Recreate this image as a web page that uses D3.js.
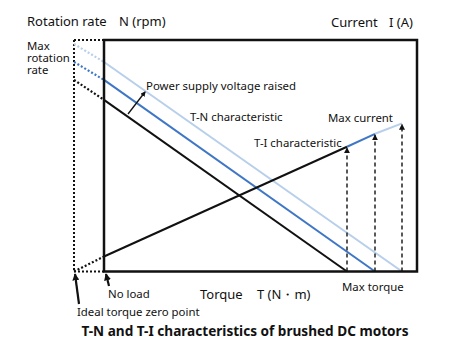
<!DOCTYPE html>
<html><head><meta charset="utf-8">
<script src="https://cdn.jsdelivr.net/npm/d3@7"></script>
<style>
html,body{margin:0;padding:0;background:#fff;}
svg{display:block;font-family:"Noto Sans","Open Sans",sans-serif;}
</style></head>
<body>
<script>
// ---- data (torque/rotation/current in arbitrary units) ----
const seriesNames = ["Base voltage", "Raised voltage", "Raised voltage (higher)"];
const seriesColors = ["#111111", "#3f77c6", "#b7cfea"];
const idealZeroTorque = 0;
const noLoadTorque = 3;
const maxTorque = [27.3, 30.1, 32.8];
const rotationAtIdealZero = [19.2, 21.0, 22.8];
const rotationAtNoLoad = [17.2, 19.2, 21.0];
const currentAtIdealZero = 0;
const currentAtNoLoad = 1.5;
const currentAtMaxTorque = [12.5, 13.8, 14.85];
const torqueMax = 34.3;
const rotationMax = 23.2;
const currentMax = 23.2;

const W = 451, H = 359;
const svg = d3.select("body").append("svg").attr("width", W).attr("height", H);

const x = d3.scaleLinear().domain([idealZeroTorque, torqueMax]).range([74, 417]);
const yN = d3.scaleLinear().domain([0, rotationMax]).range([271.5, 40]);
const yI = d3.scaleLinear().domain([0, currentMax]).range([271.5, 40]);

const defs = svg.append("defs");
defs.append("marker").attr("id", "ah").attr("viewBox", "0 0 10 10")
  .attr("refX", 9).attr("refY", 5).attr("markerWidth", 3.2).attr("markerHeight", 3.2)
  .attr("orient", "auto").attr("markerUnits", "strokeWidth")
  .append("path").attr("d", "M0,0 L10,5 L0,10 Z").attr("fill", "#111");
defs.append("marker").attr("id", "ahs").attr("viewBox", "0 0 10 10")
  .attr("refX", 9).attr("refY", 5).attr("markerWidth", 4).attr("markerHeight", 4)
  .attr("orient", "auto").attr("markerUnits", "strokeWidth")
  .append("path").attr("d", "M0,0 L10,5 L0,10 Z").attr("fill", "#111");
defs.append("marker").attr("id", "ahl").attr("viewBox", "0 0 10 10")
  .attr("refX", 8).attr("refY", 5).attr("markerWidth", 4).attr("markerHeight", 4)
  .attr("orient", "auto").attr("markerUnits", "strokeWidth")
  .append("path").attr("d", "M0,0 L10,5 L0,10 Z").attr("fill", "#111");

const line = (pts, yS) => d3.line().x(d => x(d[0])).y(d => yS(d[1]))(pts);

// dotted "ideal" frame
const dotted = "2,2";
const gF = svg.append("g").attr("fill", "none").attr("stroke", "#111").attr("stroke-width", 2).attr("stroke-dasharray", dotted);
gF.append("line").attr("x1", x(idealZeroTorque)).attr("x2", x(idealZeroTorque)).attr("y1", yN(rotationMax)).attr("y2", yN(0));
gF.append("line").attr("x1", x(idealZeroTorque)).attr("x2", x(noLoadTorque)).attr("y1", yN(rotationMax)).attr("y2", yN(rotationMax));
gF.append("line").attr("x1", x(idealZeroTorque)).attr("x2", x(noLoadTorque)).attr("y1", yN(0)).attr("y2", yN(0));

// T-N lines (draw lighter ones first)
for (let i = seriesNames.length - 1; i >= 0; i--) {
  svg.append("path").attr("d", line([[idealZeroTorque, rotationAtIdealZero[i]], [noLoadTorque, rotationAtNoLoad[i]]], yN))
    .attr("fill", "none").attr("stroke", seriesColors[i]).attr("stroke-width", 2.2).attr("stroke-dasharray", dotted);
  svg.append("path").attr("d", line([[noLoadTorque, rotationAtNoLoad[i]], [maxTorque[i], 0]], yN))
    .attr("fill", "none").attr("stroke", seriesColors[i]).attr("stroke-width", 2);
}

// T-I line
svg.append("path").attr("d", line([[idealZeroTorque, currentAtIdealZero], [noLoadTorque, currentAtNoLoad]], yI))
  .attr("fill", "none").attr("stroke", "#111").attr("stroke-width", 2.2).attr("stroke-dasharray", dotted);
const tiPts = [[noLoadTorque, currentAtNoLoad]].concat(maxTorque.map((t, i) => [t, currentAtMaxTorque[i]]));
for (let i = 0; i < seriesNames.length; i++) {
  svg.append("path").attr("d", line([tiPts[i], tiPts[i + 1]], yI))
    .attr("fill", "none").attr("stroke", seriesColors[i]).attr("stroke-width", 2);
}

// dashed verticals at max torque with arrowheads
maxTorque.forEach((t, i) => {
  svg.append("line").attr("x1", x(t)).attr("x2", x(t)).attr("y1", yI(0)).attr("y2", yI(currentAtMaxTorque[i]) + 1)
    .attr("stroke", "#222").attr("stroke-width", 1.5).attr("stroke-dasharray", "4,3")
    .attr("marker-end", "url(#ahs)");
});

// main frame
svg.append("rect").attr("x", x(noLoadTorque)).attr("y", yN(rotationMax))
  .attr("width", x(torqueMax) - x(noLoadTorque)).attr("height", yN(0) - yN(rotationMax))
  .attr("fill", "none").attr("stroke", "#111").attr("stroke-width", 2.5);

// annotation arrows
svg.append("line").attr("x1", 128).attr("y1", 114).attr("x2", 145).attr("y2", 92)
  .attr("stroke", "#111").attr("stroke-width", 1.3).attr("marker-end", "url(#ahl)");
svg.append("line").attr("x1", 79).attr("y1", 304).attr("x2", 75).attr("y2", 274)
  .attr("stroke", "#111").attr("stroke-width", 2.2).attr("marker-end", "url(#ah)");
svg.append("line").attr("x1", 109).attr("y1", 286).attr("x2", 106).attr("y2", 274)
  .attr("stroke", "#111").attr("stroke-width", 2.2).attr("marker-end", "url(#ah)");

// texts
const txt = (s, tx, ty, size, opts = {}) => svg.append("text").attr("x", tx).attr("y", ty)
  .attr("font-size", size).attr("fill", "#111").attr("font-weight", opts.bold ? "bold" : null)
  .attr("text-anchor", opts.anchor || "start").text(s);

const big = 13, small = 11.4;
txt("Rotation rate", 27, 26, big);
txt("N (rpm)", 119, 26, big);
txt("Current", 331, 27, big);
txt("I (A)", 389, 27, big);
const maxRate = svg.append("text").attr("x", 27).attr("y", 50).attr("font-size", small).attr("fill", "#111");
["Max", "rotation", "rate"].forEach((s, i) => {
  maxRate.append("tspan").attr("x", 27).attr("dy", i === 0 ? 0 : 12).text(s);
});
txt("Power supply voltage raised", 146, 90, small);
txt("T-N characteristic", 190, 121, small);
txt("T-I characteristic", 254, 147, small);
txt("Max current", 328, 122, small);
txt("No load", 108, 298, small);
txt("Torque", 200, 299, big);
txt("T (N・m)", 257, 299, big);
txt("Max torque", 342, 291, small);
txt("Ideal torque zero point", 77, 316, small);
txt("T-N and T-I characteristics of brushed DC motors", 245, 336, 13.6, {bold: true, anchor: "middle"});
</script>
</body></html>
